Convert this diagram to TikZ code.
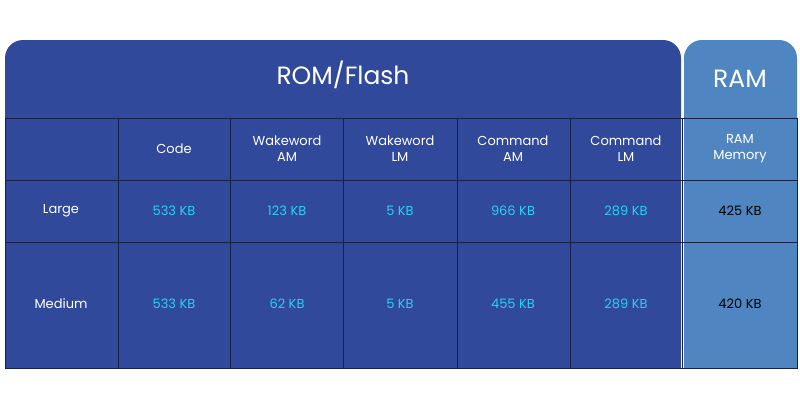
\documentclass[tikz,border=0pt]{standalone}
\usepackage{fontspec}
\setmainfont{Poppins}
\usetikzlibrary{positioning}
\definecolor{romblue}{HTML}{30499A}
\definecolor{ramblue}{HTML}{4F86C2}
\definecolor{gridnavy}{HTML}{16214A}
\definecolor{kbcyan}{HTML}{2AD0F2}

\begin{document}
\begin{tikzpicture}[
        x=1pt, y=-1pt,
        head/.style={text=white, font=\fontsize{13}{16}\selectfont, align=center},
        size/.style={text=kbcyan, font=\fontsize{13}{16}\selectfont},
        ramsize/.style={text=black, font=\fontsize{13}{16}\selectfont},
        title/.style={text=white, font=\fontsize{25}{30}\selectfont}
    ]
    \useasboundingbox (0,0) rectangle (800,400);

    % Panels
    \fill[romblue, rounded corners=18pt] (5,40) rectangle (681,368);
    \fill[romblue] (5,110) rectangle (681,368);
    \fill[ramblue, rounded corners=18pt] (684,40) rectangle (797,368);
    \fill[ramblue] (684,110) rectangle (797,368);

    % Grid
    \draw[gridnavy, thin] (5,118) rectangle (797,368);
    \foreach \x in {118,230,343,457,570,682} {
        \draw[gridnavy, thin] (\x,118) -- (\x,368);
    }
    \foreach \y in {180,242} {
        \draw[gridnavy, thin] (5,\y) -- (797,\y);
    }

    % Titles
    \node[title] (rom) at (343,75) {ROM/Flash};
    \node[title] (ram) at (740,79) {RAM};

    % Header row
    \node[head] (code) at (174,149) {Code};
    \node[head] (wam) at (287,149) {Wakeword\\AM};
    \node[head] (wlm) at (400,149) {Wakeword\\LM};
    \node[head] (cam) at (513,149) {Command\\AM};
    \node[head] (clm) at (626,149) {Command\\LM};
    \node[head] (mem) at (740,149) {RAM\\Memory};

    % Large
    \node[head] (large) at (61,211) {Large};
    \node[size] (large-code) at (174,211) {533 KB};
    \node[size] (large-wam) at (287,211) {123 KB};
    \node[size] (large-wlm) at (400,211) {5 KB};
    \node[size] (large-cam) at (513,211) {966 KB};
    \node[size] (large-clm) at (626,211) {289 KB};
    \node[ramsize] (large-mem) at (740,211) {425 KB};

    % Medium
    \node[head] (medium) at (61,304) {Medium};
    \node[size] (medium-code) at (174,304) {533 KB};
    \node[size] (medium-wam) at (287,304) {62 KB};
    \node[size] (medium-wlm) at (400,304) {5 KB};
    \node[size] (medium-cam) at (513,304) {455 KB};
    \node[size] (medium-clm) at (626,304) {289 KB};
    \node[ramsize] (medium-mem) at (740,304) {420 KB};
\end{tikzpicture}
\end{document}
